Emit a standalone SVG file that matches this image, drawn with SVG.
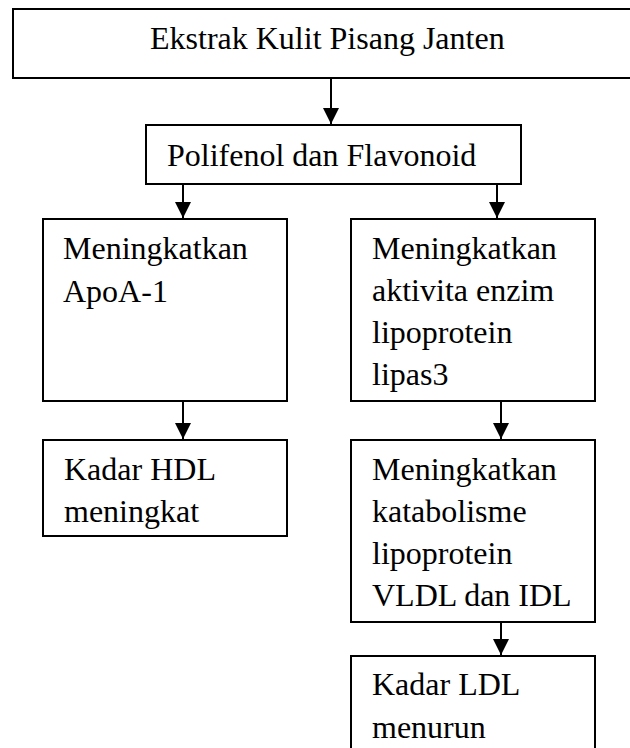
<svg xmlns="http://www.w3.org/2000/svg" width="630" height="748" viewBox="0 0 630 748">
<style>
.box{fill:#fff;stroke:#000;stroke-width:2}
.t{font-family:"Liberation Serif","Times New Roman",serif;font-size:32px;fill:#000}
.c{stroke:#000;stroke-width:2;fill:none}
</style>
<defs>
<marker id="ah" markerUnits="userSpaceOnUse" markerWidth="16" markerHeight="16" viewBox="0 0 14 14" refX="14" refY="7" orient="auto">
<path d="M0,0 L14,7 L0,14 Z" fill="#000"/>
</marker>
</defs>
<rect width="630" height="748" fill="#fff"/>
<g id="n1"><rect class="box" x="13" y="9" width="630" height="69"/><text class="t" x="150" y="49">Ekstrak Kulit Pisang Janten</text></g>
<g id="n2"><rect class="box" x="146" y="125" width="375" height="59"/><text class="t" x="167" y="166">Polifenol dan Flavonoid</text></g>
<g id="n3"><rect class="box" x="43" y="219" width="244" height="182"/><text class="t" x="63" y="259">Meningkatkan</text><text class="t" x="63" y="302">ApoA-1</text></g>
<g id="n4"><rect class="box" x="351" y="219" width="244" height="182"/><text class="t" x="372" y="259">Meningkatkan</text><text class="t" x="372" y="301">aktivita enzim</text><text class="t" x="372" y="343">lipoprotein</text><text class="t" x="372" y="385">lipas3</text></g>
<g id="n5"><rect class="box" x="43" y="440" width="244" height="96"/><text class="t" x="64" y="480">Kadar HDL</text><text class="t" x="64" y="522">meningkat</text></g>
<g id="n6"><rect class="box" x="351" y="440" width="244" height="182"/><text class="t" x="372" y="480">Meningkatkan</text><text class="t" x="372" y="522">katabolisme</text><text class="t" x="372" y="564">lipoprotein</text><text class="t" x="372" y="606">VLDL dan IDL</text></g>
<g id="n7"><rect class="box" x="351" y="656" width="244" height="120"/><text class="t" x="372" y="695">Kadar LDL</text><text class="t" x="372" y="738">menurun</text></g>
<g id="connectors">
<line class="c" x1="331" y1="79" x2="331" y2="124" marker-end="url(#ah)"/>
<line class="c" x1="183" y1="185" x2="183" y2="218" marker-end="url(#ah)"/>
<line class="c" x1="497" y1="185" x2="497" y2="218" marker-end="url(#ah)"/>
<line class="c" x1="183" y1="402" x2="183" y2="439" marker-end="url(#ah)"/>
<line class="c" x1="501" y1="402" x2="501" y2="439" marker-end="url(#ah)"/>
<line class="c" x1="501" y1="623" x2="501" y2="655" marker-end="url(#ah)"/>
</g>
</svg>
